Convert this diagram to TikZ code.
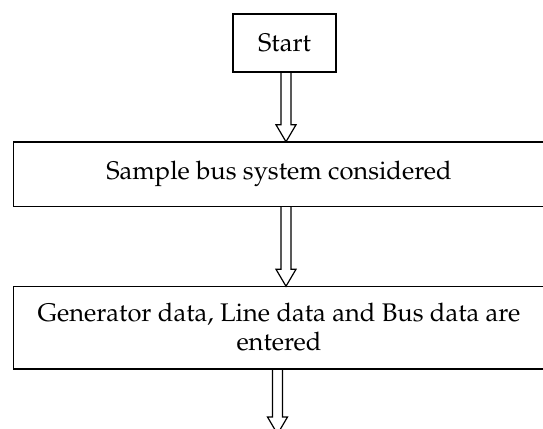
\documentclass[tikz,border=0pt]{standalone}
\usepackage[T1]{fontenc}
\usepackage{mathpazo}
\usetikzlibrary{calc}
\tikzset{
  box/.style={draw, line width=1.5pt, inner sep=0pt, align=center,
    font=\fontsize{25.5}{29}\selectfont},
  widebox/.style={box, draw=none},
  boxline/.style={draw, line width=1.5pt},
  arrowline/.style={draw, line width=1.2pt, line join=miter}
}
\newcommand\harrow[2]{%
  \path[arrowline] let \p1=(#1), \p2=(#2) in
    (\x1-5pt,\y1) -- (\x1-5pt,\y2+17pt) -- (\x1-10pt,\y2+17pt) -- (\x1,\y2)
    -- (\x1+10pt,\y2+17pt) -- (\x1+5pt,\y2+17pt) -- (\x1+5pt,\y1);}
\begin{document}
\begin{tikzpicture}[x=1pt,y=1pt]
\clip (0,0) rectangle (543,-428);
\node[box, minimum width=103, minimum height=58] (start) at (284.5,-43) {Start};
\node[widebox, minimum width=530, minimum height=63] (b2) at (279,-174) {Sample bus system considered};
\node[widebox, minimum width=530, minimum height=81] (b3) at (279,-327.5) {Generator data, Line data and Bus data are\\entered};
\path[boxline] (b2.north west) rectangle ([xshift=10pt]b2.south east);
\path[boxline] (b3.north west) rectangle ([xshift=10pt]b3.south east);
\coordinate (end) at (277.5,-434);
\harrow{[xshift=1.5pt]start.south}{b2.north}
\harrow{[xshift=7pt]b2.south}{b3.north}
\harrow{[xshift=-1.5pt]b3.south}{end}
\end{tikzpicture}
\end{document}
